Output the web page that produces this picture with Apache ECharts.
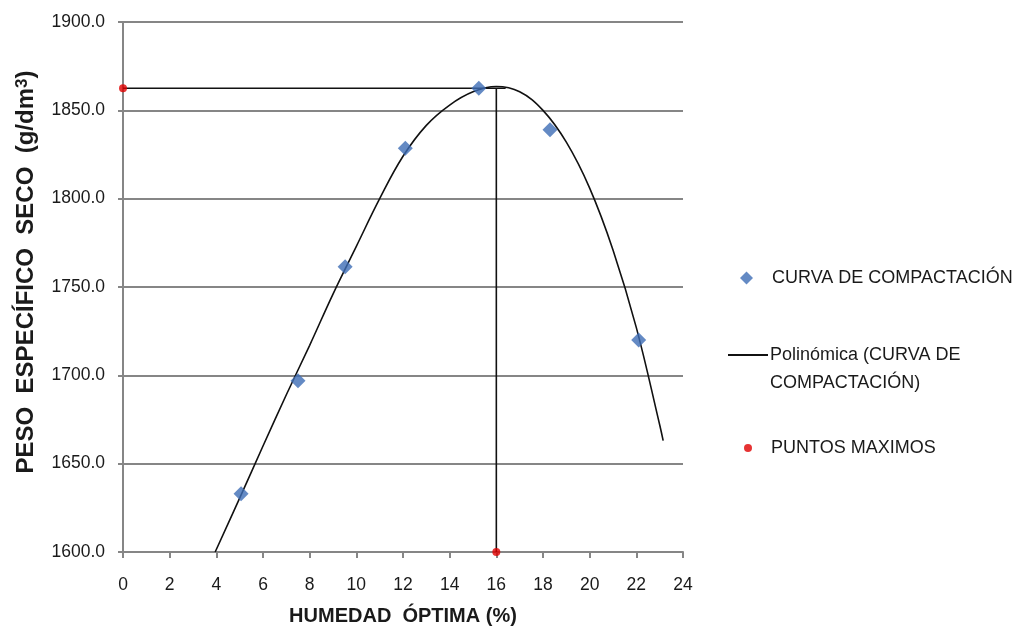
<!DOCTYPE html>
<html>
<head>
<meta charset="utf-8">
<script src="https://cdn.jsdelivr.net/npm/echarts@6/dist/echarts.min.js"></script>
<style>
  html, body { margin: 0; padding: 0; background: #ffffff; }
  #chart { width: 1013px; height: 637px; }
</style>
</head>
<body>
<div id="chart"></div>
<script>
// Compaction test: measured points
const humedad = [5.06, 7.5, 9.52, 12.1, 15.25, 18.3, 22.1];
const pesoSeco = [1633, 1697, 1761.5, 1828.5, 1862.5, 1839, 1720];

// Polynomial trend line, sampled along its path
const curveX = [3.95, 5, 6, 7, 8, 9, 10, 11, 12, 13, 14, 15, 16, 17, 18, 19, 20, 21, 22, 23, 23.15];
const curveY = [1600, 1630.5, 1660, 1689, 1717, 1746, 1773, 1800, 1824, 1841.5, 1853, 1860.5, 1863.5, 1860.5, 1850, 1832, 1806, 1771, 1727, 1672, 1663];

// Maximum: optimum moisture and maximum dry density
const maxHumedad = 16;
const maxPeso = 1862.5;
const maxLineEnd = 16.4;

// Axis ranges
const xTicks = { min: 0, max: 24, interval: 2 };
const yTicks = { min: 1600, max: 1900, interval: 50 };

// Legend labels
const nameScatter = 'CURVA DE COMPACTACIÓN';
const nameTrend = 'Polinómica (CURVA DE\nCOMPACTACIÓN)';
const nameMax = 'PUNTOS MAXIMOS';

const pair = (xs, ys) => xs.map((x, i) => [x, ys[i]]);

const GRID_COLOR = '#868686';
const sans = '"Liberation Sans", Arial, sans-serif';

const chart = echarts.init(document.getElementById('chart'), null, { renderer: 'canvas' });

chart.setOption({
  animation: false,
  backgroundColor: '#ffffff',
  grid: { left: 123, right: 330, top: 22, bottom: 85, containLabel: false },
  xAxis: {
    type: 'value',
    min: xTicks.min, max: xTicks.max, interval: xTicks.interval,
    name: 'HUMEDAD  ÓPTIMA (%)',
    nameLocation: 'middle',
    nameGap: 54,
    nameTextStyle: { fontFamily: sans, fontWeight: 'bold', fontSize: 20, color: '#1a1a1a' },
    axisLine: { show: true, onZero: false, lineStyle: { color: GRID_COLOR, width: 2 } },
    axisTick: { show: true, length: 6, lineStyle: { color: GRID_COLOR, width: 2 } },
    axisLabel: { margin: 24, fontFamily: sans, fontSize: 17.5, color: '#1a1a1a' },
    splitLine: { show: false }
  },
  yAxis: {
    type: 'value',
    min: yTicks.min, max: yTicks.max, interval: yTicks.interval,
    name: '{t|PESO  ESPECÍFICO  SECO  (g/dm}{s|3}{t|)}',
    nameLocation: 'middle',
    nameRotate: 90,
    nameGap: 84,
    nameTextStyle: {
      padding: [0, 0, 0, 30],
      rich: {
        t: { fontFamily: sans, fontWeight: 'bold', fontSize: 24, color: '#1a1a1a' },
        s: { fontFamily: sans, fontWeight: 'bold', fontSize: 17, color: '#1a1a1a', verticalAlign: 'top', padding: [0, 0, 8, 0] }
      }
    },
    axisLine: { show: true, lineStyle: { color: GRID_COLOR, width: 2 } },
    axisTick: { show: true, length: 5, lineStyle: { color: GRID_COLOR, width: 2 } },
    axisLabel: {
      margin: 18,
      fontFamily: sans, fontSize: 17.5, color: '#1a1a1a',
      formatter: v => v.toFixed(1)
    },
    splitLine: { show: true, lineStyle: { color: GRID_COLOR, width: 2 } }
  },
  legend: [
    {
      data: [{ name: nameScatter, icon: 'diamond' }],
      left: 740, top: 266, orient: 'vertical', padding: 0,
      itemWidth: 13, itemHeight: 13, itemGap: 0,
      textStyle: { fontFamily: sans, fontSize: 18, lineHeight: 24, color: '#1a1a1a', padding: [0, 0, 0, 14] }
    },
    {
      data: [{ name: nameTrend, icon: 'rect' }],
      left: 728, top: 313, orient: 'vertical', padding: 0,
      itemWidth: 40, itemHeight: 2, itemGap: 0,
      formatter: n => '\n' + n,
      textStyle: { fontFamily: sans, fontSize: 18, lineHeight: 28, color: '#1a1a1a', padding: [0, 0, 0, -3] }
    },
    {
      data: [{ name: nameMax, icon: 'circle' }],
      left: 744, top: 436, orient: 'vertical', padding: 0,
      itemWidth: 8, itemHeight: 8, itemGap: 0,
      textStyle: { fontFamily: sans, fontSize: 18, lineHeight: 24, color: '#1a1a1a', padding: [0, 0, 0, 14] }
    }
  ],
  series: [
    {
      name: nameTrend,
      type: 'line',
      data: pair(curveX, curveY),
      smooth: 0.4,
      showSymbol: false,
      symbol: 'none',
      itemStyle: { color: '#111111' },
      lineStyle: { color: '#111111', width: 1.6 },
      z: 3
    },
    {
      name: 'max-lines',
      type: 'line',
      data: [[0, maxPeso], [maxLineEnd, maxPeso], null, [maxHumedad, maxPeso], [maxHumedad, yTicks.min]],
      connectNulls: false,
      showSymbol: false,
      symbol: 'none',
      lineStyle: { color: '#111111', width: 1.6 },
      silent: true,
      z: 3
    },
    {
      name: nameScatter,
      type: 'scatter',
      data: pair(humedad, pesoSeco),
      symbol: 'diamond',
      symbolSize: 15,
      itemStyle: { color: '#3D6DB5' },
      z: 5
    },
    {
      name: nameMax,
      type: 'scatter',
      data: [[0, maxPeso], [maxHumedad, yTicks.min]],
      symbol: 'circle',
      symbolSize: 8,
      itemStyle: { color: '#E00000' },
      z: 6
    }
  ]
});
</script>
</body>
</html>
